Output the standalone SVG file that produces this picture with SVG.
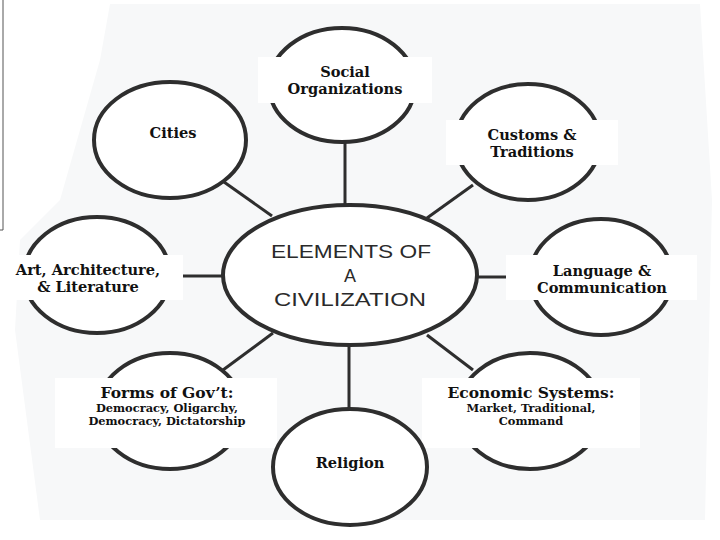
<svg xmlns="http://www.w3.org/2000/svg" width="720" height="540" viewBox="0 0 720 540">
<style>
.node{fill:#ffffff;stroke:#2e2e2e;stroke-width:4}
.box{fill:#ffffff;stroke:none}
.lbl{font-family:"DejaVu Serif","Liberation Serif",serif;font-weight:bold;font-size:14.6px;fill:#111;text-anchor:middle}
.big{font-size:15.5px}
.small{font-size:11.4px}
.center{font-family:"Liberation Sans","Open Sans",sans-serif;font-size:18px;fill:#2a2a2a;text-anchor:middle}
.conn line{stroke:#2e2e2e;stroke-width:3}
</style>
<rect width="720" height="540" fill="#ffffff"/>
<polygon points="110,4 700,4 712,200 705,520 40,520 15,330 20,240 60,200 100,60" fill="#f7f8f9"/>
<polyline points="3,0 3,230 0,230" fill="none" stroke="#555" stroke-width="1"/>
<g id="connectors" class="conn">
<line x1="345" y1="142" x2="345" y2="206"/>
<line x1="224" y1="182" x2="272" y2="216"/>
<line x1="473" y1="185" x2="427" y2="218"/>
<line x1="183" y1="276" x2="224" y2="276"/>
<line x1="477" y1="277" x2="506" y2="277"/>
<line x1="223" y1="370" x2="273" y2="333"/>
<line x1="427" y1="335" x2="473" y2="370"/>
<line x1="349" y1="344" x2="349" y2="408"/>
</g>
<g id="center">
<ellipse class="node" cx="350" cy="275" rx="127" ry="70"/>
<text class="center" x="351" y="258" textLength="160" lengthAdjust="spacingAndGlyphs">ELEMENTS OF</text>
<text class="center" x="350" y="282">A</text>
<text class="center" x="350" y="306" textLength="152" lengthAdjust="spacingAndGlyphs">CIVILIZATION</text>
</g>
<g id="social">
<ellipse class="node" cx="342" cy="85" rx="73" ry="57"/>
<rect class="box" x="258" y="57" width="174" height="46"/>
<text class="lbl" x="345" y="77">Social</text>
<text class="lbl" x="345" y="94">Organizations</text>
</g>
<g id="cities">
<ellipse class="node" cx="170" cy="140" rx="76" ry="58"/>
<rect class="box" x="113" y="118" width="117" height="47"/>
<text class="lbl" x="173" y="138">Cities</text>
</g>
<g id="customs">
<ellipse class="node" cx="528" cy="142" rx="72" ry="58"/>
<rect class="box" x="446" y="120" width="172" height="45"/>
<text class="lbl" x="532" y="140">Customs &amp;</text>
<text class="lbl" x="532" y="157">Traditions</text>
</g>
<g id="art">
<ellipse class="node" cx="97" cy="275" rx="73" ry="58"/>
<rect class="box" x="8" y="255" width="175" height="45"/>
<text class="lbl" x="88" y="275">Art, Architecture,</text>
<text class="lbl" x="88" y="292">&amp; Literature</text>
</g>
<g id="language">
<ellipse class="node" cx="601" cy="277" rx="71" ry="58"/>
<rect class="box" x="506" y="255" width="191" height="45"/>
<text class="lbl" x="602" y="276">Language &amp;</text>
<text class="lbl" x="602" y="293">Communication</text>
</g>
<g id="government">
<ellipse class="node" cx="170" cy="411" rx="73" ry="58"/>
<rect class="box" x="55" y="378" width="222" height="70"/>
<text class="lbl big" x="167" y="398">Forms of Gov’t:</text>
<text class="lbl small" x="167" y="412">Democracy, Oligarchy,</text>
<text class="lbl small" x="167" y="425">Democracy, Dictatorship</text>
</g>
<g id="economic">
<ellipse class="node" cx="530" cy="411" rx="72" ry="58"/>
<rect class="box" x="422" y="378" width="218" height="70"/>
<text class="lbl big" x="531" y="398">Economic Systems:</text>
<text class="lbl small" x="531" y="412">Market, Traditional,</text>
<text class="lbl small" x="531" y="425">Command</text>
</g>
<g id="religion">
<ellipse class="node" cx="350" cy="467" rx="77" ry="58"/>
<rect class="box" x="292" y="447" width="116" height="40"/>
<text class="lbl" x="350" y="468">Religion</text>
</g>
</svg>
